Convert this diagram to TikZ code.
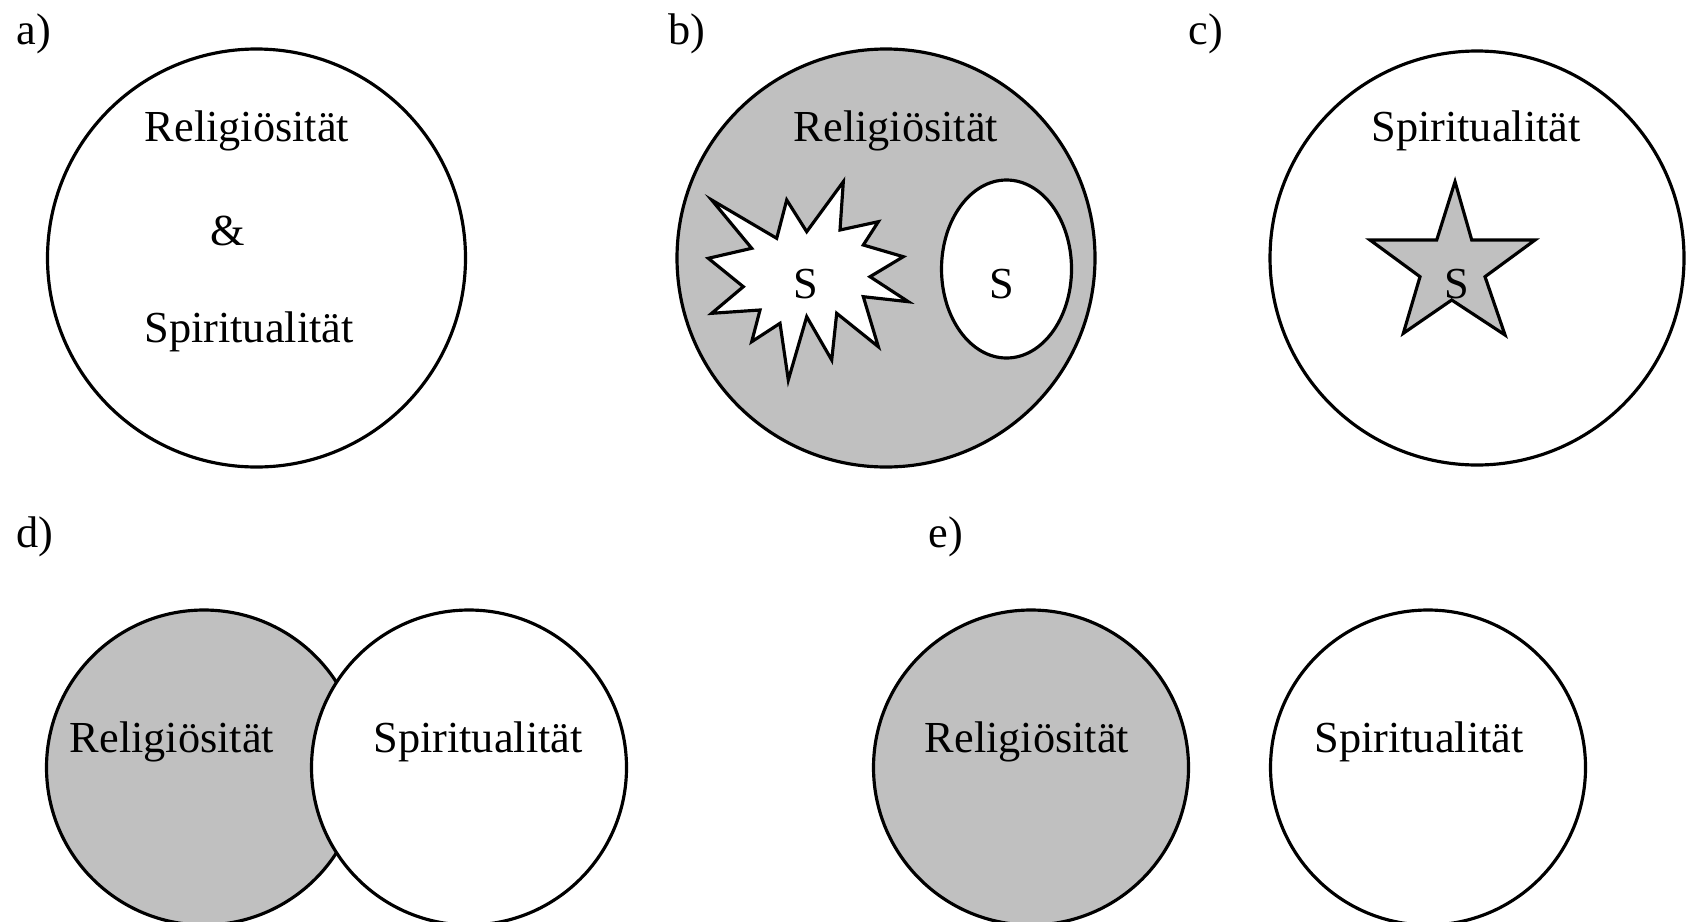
\documentclass[tikz,border=0pt]{standalone}
\usepackage{fontspec}
\setmainfont{Liberation Serif}
\usepackage{xcolor}
\usepackage{tikz}
\definecolor{lightsilver}{HTML}{C0C0C0}

\begin{document}
\begin{tikzpicture}[x=0.01cm, y=-0.01cm, line width=0.9pt,
    every node/.style={font=\fontsize{12.6}{15}\selectfont, inner sep=0pt},
    ring/.style={draw=black, fill=white},
    shaded/.style={draw=black, fill=lightsilver}]
  \useasboundingbox (0,0) rectangle (1686,921);
  \clip (0,0) rectangle (1686,921);

  % a)
  \node[anchor=west] (la) at (15,34) {a)};
  \draw[ring] (256.5,258) circle (209);
  \node (ra) at (247,131) {Religiösität};
  \node (amp) at (228,231) {\&};
  \node (sa) at (249,332) {Spiritualität};

  % b)
  \node[anchor=west] (lb) at (667,34) {b)};
  \draw[shaded] (886,258) circle (209);
  \node (rb) at (896,131) {Religiösität};
  \draw[ring] (711.7,200) -- (776.7,238.3) -- (786.7,200) -- (806.7,231.7)
    -- (843.3,181.7) -- (840,230) -- (878.3,221.7) -- (863.3,245)
    -- (903.3,256.7) -- (870,276.7) -- (908.3,301.7) -- (863.3,296.7)
    -- (878.3,346.7) -- (836.7,313.3) -- (831.7,360) -- (806.7,316.7)
    -- (788.3,380) -- (780,323.3) -- (751.7,341.7) -- (760,310)
    -- (711.7,313.3) -- (743.3,286.7) -- (708.3,258.3) -- (751.7,248.3)
    -- cycle;
  \node (sb1) at (806,284) {S};
  \draw[ring] (1006.5,269) ellipse (65 and 89);
  \node (sb2) at (1002,284) {S};

  % c)
  \node[anchor=west] (lc) at (1187,34) {c)};
  \draw[ring] (1477,258) circle (207);
  \node (sc) at (1476,131) {Spiritualität};
  \draw[shaded] (1455,181.7) -- (1471.7,240) -- (1535,240) -- (1485,276.7)
    -- (1505,335) -- (1451.7,300) -- (1403.3,333.3) -- (1420,276.7)
    -- (1370,240) -- (1436.7,240) -- cycle;
  \node (sc1) at (1457,284) {S};

  % d)
  \node[anchor=west] (ld) at (15,537) {d)};
  \draw[shaded] (204,767.5) circle (157.5);
  \draw[ring] (469,767.5) circle (157.5);
  \node (rd) at (172,742) {Religiösität};
  \node (sd) at (478,742) {Spiritualität};

  % e)
  \node[anchor=west] (le) at (927,537) {e)};
  \draw[shaded] (1031,767.5) circle (157.5);
  \draw[ring] (1428,767.5) circle (157.5);
  \node (re) at (1027,742) {Religiösität};
  \node (se) at (1419,742) {Spiritualität};
\end{tikzpicture}
\end{document}
